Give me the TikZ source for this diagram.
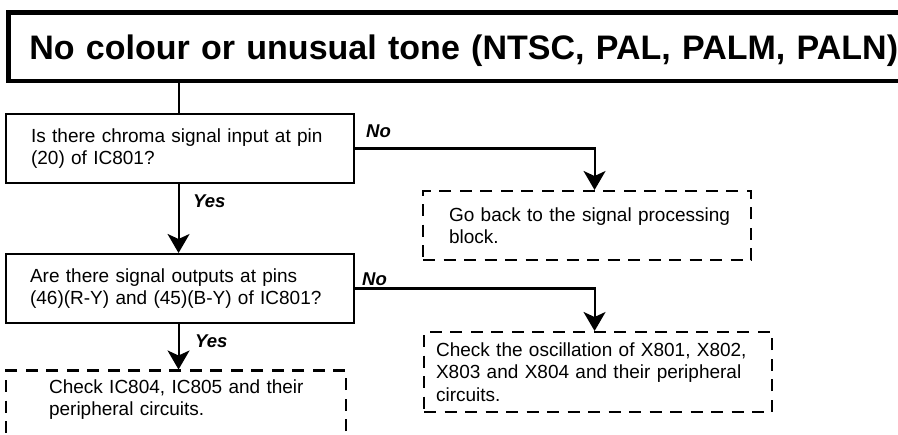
\documentclass[tikz,border=0pt]{standalone}
\usepackage{fontspec}
\setmainfont{Liberation Sans}
\usetikzlibrary{arrows.meta}
\begin{document}
\begin{tikzpicture}[x=1pt,y=-1pt,
  body/.style={font=\fontsize{19}{22.5}\selectfont},
  box/.style={body, draw, line width=2.1pt, anchor=north west, align=left, inner ysep=0pt},
  dbox/.style={box, dash pattern=on 12pt off 8.5pt},
  lab/.style={font=\fontsize{18.5}{22}\selectfont\bfseries\itshape, inner sep=0pt, anchor=base west},
  conn/.style={line width=2.1pt},
  arr/.style={conn, -{Stealth[length=19pt,width=22pt,inset=5pt]}}]
\useasboundingbox (0,0) rectangle (898,435);
\clip (0,0) rectangle (898,435);
\node[draw, line width=4.5pt, anchor=north west, align=left, minimum width=922pt, minimum height=68.5pt,
      inner xsep=21pt, inner ysep=0pt, text width=880pt, text depth=0pt,
      font=\fontsize{34}{40}\selectfont\bfseries] (title) at (6,10.5)
  {No colour or unusual tone (NTSC, PAL, PALM, PALN)};
\node[box, minimum width=348pt, minimum height=69pt, inner xsep=25pt, text width=298pt] (b1) at (5,113)
  {\mbox{Is there chroma signal input at pin}\\\mbox{(20) of IC801?}};
\node[dbox, minimum width=328pt, minimum height=69pt, inner xsep=26pt, text width=276pt] (b2) at (422,190)
  {\mbox{Go back to the signal processing}\\\mbox{block.}};
\node[box, minimum width=348pt, minimum height=69pt, inner xsep=24pt, text width=300pt] (b3) at (5,253)
  {\mbox{Are there signal outputs at pins}\\\mbox{(46)(R-Y) and (45)(B-Y) of IC801?}};
\node[dbox, minimum width=348pt, minimum height=80pt, inner xsep=12pt, text width=324pt] (b4) at (423,331)
  {\mbox{Check the oscillation of X801, X802,}\\\mbox{X803 and X804 and their peripheral}\\\mbox{circuits.}};
\node[dbox, minimum width=340pt, minimum height=69pt, inner xsep=43pt, text width=254pt] (b5) at (5,369.5)
  {\mbox{Check IC804, IC805 and their}\\\mbox{peripheral circuits.}\rule[-15pt]{0pt}{15pt}};
\coordinate (c1) at ([xshift=-1.5pt]b1.north);
\coordinate (c3) at ([xshift=-1.5pt]b3.north);
\coordinate (t2) at ([xshift=7.5pt]b2.north);
\coordinate (t4) at ([xshift=-3.5pt]b4.north);
\draw[conn] (title.south -| c1) -- (c1);
\draw[arr] (b1.south -| c1) -- (c3);
\draw[arr] (b1.east) -| (t2);
\draw[arr] (b3.east) -| (t4);
\draw[arr] (b3.south -| c3) -- (c3 |- b5.north);
\node[lab] (no1) at (366,138) {No};
\node[lab] (yes1) at (193,208) {Yes};
\node[lab] (no2) at (362,286) {No};
\node[lab] (yes2) at (195,348) {Yes};
\end{tikzpicture}
\end{document}
